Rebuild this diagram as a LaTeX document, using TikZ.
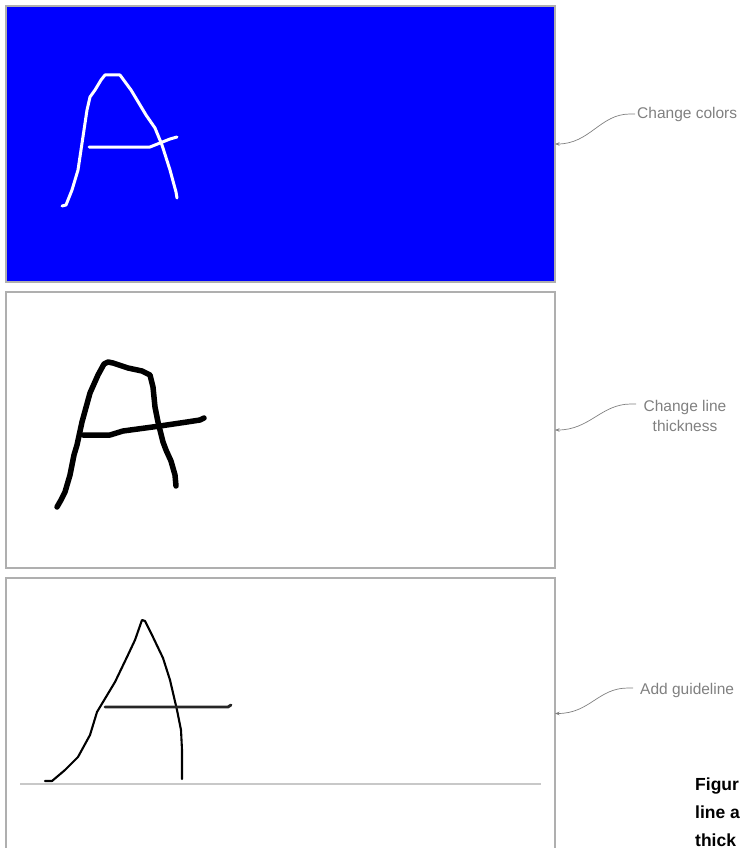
\documentclass[tikz,border=0pt]{standalone}
\usepackage{fontspec}
\setmainfont{Liberation Sans}
\usetikzlibrary{arrows.meta}
\definecolor{annogray}{RGB}{128,128,128}
\definecolor{framegray}{RGB}{175,175,175}
\definecolor{pureblue}{RGB}{0,0,255}
\definecolor{guidegray}{RGB}{200,200,200}
\begin{document}
\begin{tikzpicture}[x=1pt,y=-1pt,
  panel/.style={draw=framegray, line width=1.2pt, minimum width=549pt, inner sep=0pt, outer sep=0pt},
  pen/.style={line cap=round, line join=round},
  anno/.style={text=annogray, font=\fontsize{15.5}{20}\selectfont, inner sep=0pt},
  annoline/.style={draw=annogray, line width=0.7pt, -{Stealth[length=4.5pt,width=3.5pt]}},
  caption/.style={font=\bfseries\fontsize{17.5}{27}\selectfont, inner sep=0pt, anchor=base west}]
\useasboundingbox (0,0) rectangle (739,848);
\clip (0,0) rectangle (739,848);

% panels
\node[panel, fill=pureblue, minimum height=276pt] (p1) at (280.5,144) {};
\node[panel, fill=white, minimum height=276pt] (p2) at (280.5,430) {};
\node[panel, fill=white, minimum height=271pt] (p3) at (280.5,713.5) {};

% panel 1 letter (white)
\draw[pen, white, line width=3pt]
  (62,206) -- (66,205) -- (72,190) -- (78,170) -- (81,150) -- (84,130) -- (87,110)
  -- (90,97) -- (95,90) -- (101,80) -- (105,75) -- (120,75) -- (131,90) -- (146,115)
  -- (155,128) -- (162,145) -- (170,170) -- (176,192) -- (177,198);
\draw[pen, white, line width=3pt]
  (89,147) -- (150,147) -- (160,143) -- (170,139) -- (177,137);

% panel 2 letter (thick black)
\draw[pen, black, line width=5.5pt]
  (57,507) -- (61,500) -- (65,492) -- (70,475) -- (74,455) -- (77,445) -- (82,422)
  -- (90,393) -- (98,375) -- (104,364) -- (108,362) -- (113,363) -- (128,368)
  -- (142,371) -- (150,375) -- (153,387) -- (155,407) -- (158,422) -- (163,442)
  -- (166,450) -- (171,461) -- (175,475) -- (176,486);
\draw[pen, black, line width=5.5pt]
  (83,435) -- (110,435) -- (123,431) -- (160,426) -- (187,422) -- (200,420) -- (204,418);

% panel 3 letter with guideline
\draw[guidegray, line width=2pt] (20,784) -- (541,784);
\draw[pen, black, line width=2.1pt]
  (45,781) -- (52,781) -- (65,770) -- (78,757) -- (90,735) -- (97,712) -- (103,702)
  -- (115,682) -- (127,657) -- (135,640) -- (142,620) -- (145,621) -- (152,635)
  -- (163,658) -- (170,680) -- (177,710) -- (181,730) -- (182,750) -- (182,779);
\draw[pen, black!85, line width=2.8pt] (105,707) -- (228,707) -- (231,705);

% annotations
\node[anno, anchor=base west] (a1) at (637,119) {Change colors};
\node[anno, align=center] (a2) at (685,416) {Change line\\thickness};
\node[anno, anchor=base west] (a3) at (640,694) {Add guideline};

\coordinate (s1) at (635,114);
\coordinate (s2) at (636,404);
\coordinate (s3) at (633,688);

\draw[annoline] (s1) -- ++(-5,0) .. controls +(-30,0) and +(35,0) .. (p1.east);
\draw[annoline] (s2) -- ++(-5,0) .. controls +(-30,0) and +(35,0) .. (p2.east);
\draw[annoline] (s3) -- ++(-5,0) .. controls +(-30,0) and +(35,0) .. (p3.east);

% caption (cut off at the right edge)
\node[caption] (c1) at (695,790) {Figur};
\node[caption] (c2) at (695,818) {line a};
\node[caption] (c3) at (695,846) {thick};
\end{tikzpicture}
\end{document}
